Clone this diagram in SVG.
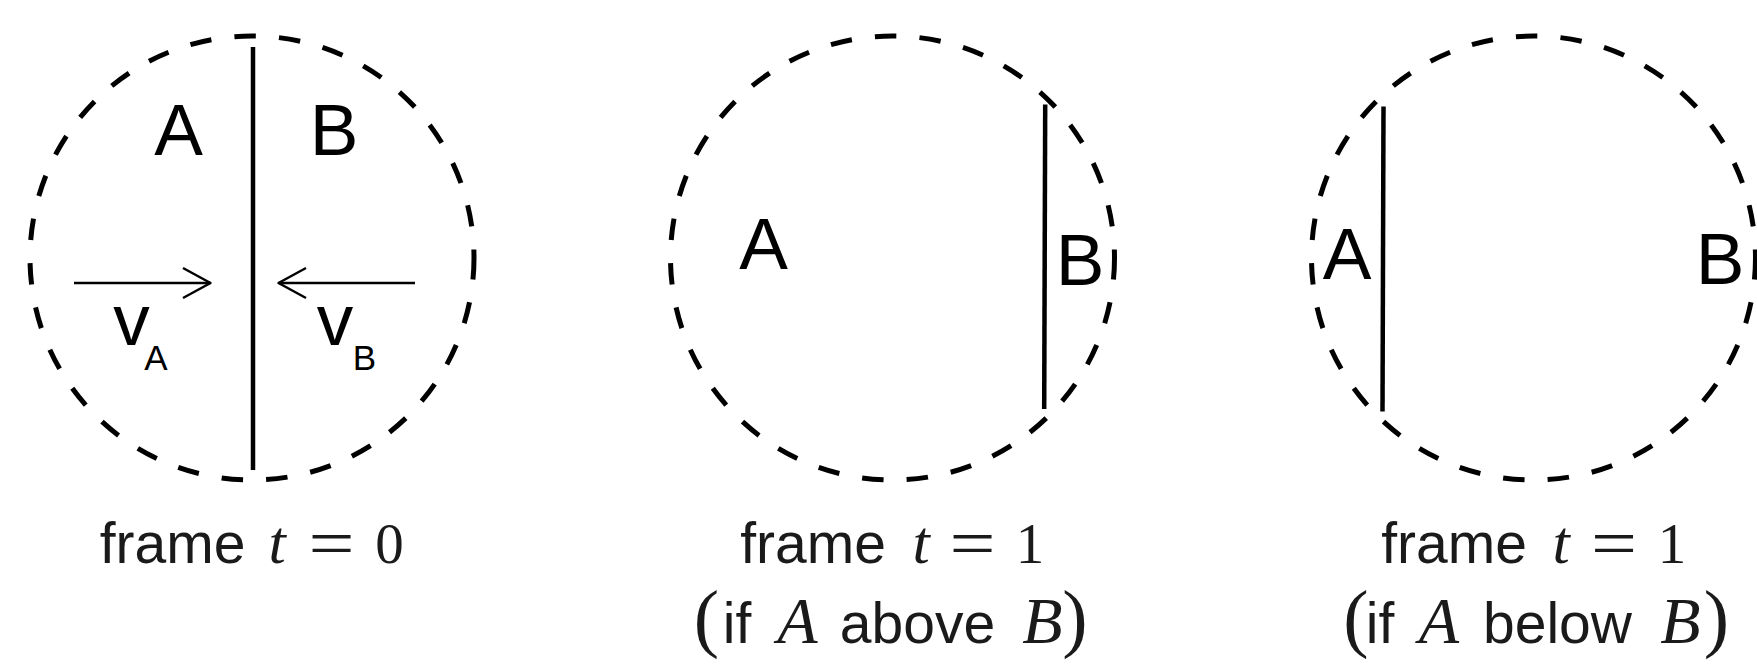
<svg xmlns="http://www.w3.org/2000/svg" width="1757" height="667" viewBox="0 0 1757 667">
<defs>
<style>
.frame{fill:none;stroke:#000;stroke-width:5;stroke-dasharray:21.5 23.2}
.wall{stroke:#000;stroke-width:4.5;fill:none}
.vel{stroke:#000;stroke-width:2.5;fill:none}
.lbl{font-family:"Liberation Sans",Arial,sans-serif;font-size:73px;fill:#000;text-anchor:middle}
.sub{font-family:"Liberation Sans",Arial,sans-serif;font-size:35px;fill:#000;text-anchor:middle}
.cap{font-family:"Liberation Sans",Arial,sans-serif;font-size:57px;fill:#1a1a1a;text-anchor:middle}
.mi{font-family:"Liberation Serif","Times New Roman",serif;font-style:italic;font-size:62px;fill:#1a1a1a;text-anchor:middle}
.mr{font-family:"Liberation Serif","Times New Roman",serif;font-size:57px;fill:#1a1a1a;text-anchor:middle}
.eq{font-family:"Liberation Serif","Times New Roman",serif;font-size:68px;fill:#1a1a1a;text-anchor:middle}
.par{font-family:"Liberation Serif","Times New Roman",serif;font-size:76px;fill:#1a1a1a;text-anchor:middle}
</style>
<marker id="open" markerUnits="userSpaceOnUse" markerWidth="40" markerHeight="40" viewBox="-30 -20 40 40" refX="0" refY="0" orient="auto">
<path d="M-27.5,-15 L0,0 L-27.5,15" fill="none" stroke="#000" stroke-width="2.5" stroke-linejoin="round"/>
</marker>
</defs>

<g id="frame0">
<circle class="frame" cx="252" cy="258" r="222"/>
<line class="wall" x1="253" y1="47" x2="253" y2="470"/>
<text class="lbl" x="178.5" y="155">A</text>
<text class="lbl" x="334" y="155">B</text>
<text class="lbl" x="131.5" y="345">v</text>
<text class="sub" x="156" y="370">A</text>
<text class="lbl" x="335" y="345">v</text>
<text class="sub" x="364.5" y="370">B</text>
<g id="caption0">
<text class="cap" x="172.5" y="563">frame</text>
<text class="mi" x="277" y="563">t</text>
<text class="eq" x="0" y="566" transform="translate(331.5 0) scale(1.2 1)">=</text>
<text class="mr" x="389.5" y="563">0</text>
</g>
</g>

<g id="frame1-above">
<circle class="frame" cx="892.5" cy="258" r="222"/>
<line class="wall" x1="1045.2" y1="104.5" x2="1044.2" y2="409"/>
<text class="lbl" x="763.5" y="269">A</text>
<text class="lbl" x="1080" y="285">B</text>
<g id="caption1">
<text class="cap" x="813" y="563">frame</text>
<text class="mi" x="921" y="563">t</text>
<text class="eq" x="0" y="566" transform="translate(972.5 0) scale(1.2 1)">=</text>
<text class="mr" x="1030" y="563">1</text>
<text class="par" x="706.5" y="643">(</text>
<text class="cap" x="737" y="643">if</text>
<text class="mi" x="797.5" y="643" style="font-size:66px">A</text>
<text class="cap" x="917.5" y="643">above</text>
<text class="mi" x="1042.5" y="643" style="font-size:66px">B</text>
<text class="par" x="1075" y="643">)</text>
</g>
</g>

<g id="frame1-below">
<circle class="frame" cx="1533.5" cy="258" r="222"/>
<line class="wall" x1="1383.5" y1="106.5" x2="1382.5" y2="411.5"/>
<text class="lbl" x="1347" y="279">A</text>
<text class="lbl" x="1720" y="284">B</text>
<g id="caption2">
<text class="cap" x="1557.5" y="563" dx="-103.5">frame</text>
<text class="mi" x="1561" y="563">t</text>
<text class="eq" x="0" y="566" transform="translate(1614 0) scale(1.2 1)">=</text>
<text class="mr" x="1672" y="563">1</text>
<text class="par" x="1356" y="643">(</text>
<text class="cap" x="1380" y="643">if</text>
<text class="mi" x="1439" y="643" style="font-size:66px">A</text>
<text class="cap" x="1557.5" y="643">below</text>
<text class="mi" x="1680.5" y="643" style="font-size:66px">B</text>
<text class="par" x="1716.5" y="643">)</text>
</g>
</g>

<g id="connectors">
<line class="vel" x1="74" y1="283" x2="210.5" y2="283" marker-end="url(#open)"/>
<line class="vel" x1="415" y1="283" x2="278.5" y2="283" marker-end="url(#open)"/>
</g>
</svg>
